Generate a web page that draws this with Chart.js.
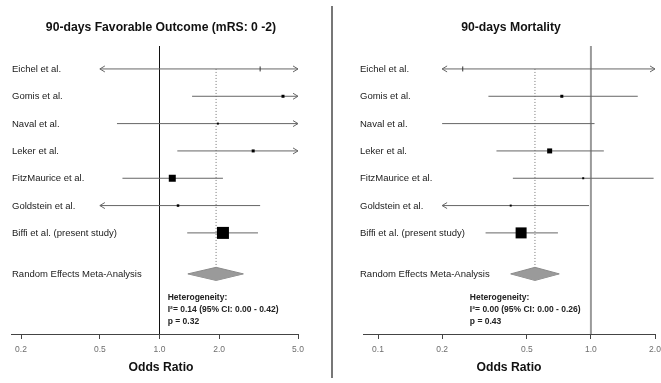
<!DOCTYPE html>
<html>
<head>
<meta charset="utf-8">
<script src="https://cdn.jsdelivr.net/npm/chart.js@4/dist/chart.umd.min.js"></script>
<style>
  html, body { margin: 0; padding: 0; background: #fff; }
  #wrap { position: relative; width: 661px; height: 383px; overflow: hidden; }
  #c1 { position: absolute; left: 0; top: 0; }
  #c2 { position: absolute; left: 333px; top: 0; }
  #divider { position: absolute; left: 331px; top: 6px; width: 2px; height: 372px; background: #777; }
</style>
</head>
<body>
<div id="wrap">
  <canvas id="c1" width="331" height="383"></canvas>
  <div id="divider"></div>
  <canvas id="c2" width="345" height="383"></canvas>
</div>
<script>
// ---------- data ----------
const studies = ["Eichel et al.", "Gomis et al.", "Naval et al.", "Leker et al.",
                 "FitzMaurice et al.", "Goldstein et al.", "Biffi et al. (present study)"];
const summaryLabel = "Random Effects Meta-Analysis";

// 90-days favorable outcome (mRS 0-2): odds ratios and 95% CI
const favOR = [3.22, 4.20, 1.97, 2.97, 1.16, 1.24, 2.09];
const favLo = [0.35, 1.46, 0.61, 1.23, 0.65, 0.48, 1.38];
const favHi = [30.0, 12.0, 6.40, 7.20, 2.09, 3.22, 3.14];
const favSummary = [1.93, 1.39, 2.65];      // estimate, lower, upper
const favTicks = [0.2, 0.5, 1.0, 2.0, 5.0];
const favHet = ["Heterogeneity:", "I\u00B2= 0.14 (95% CI: 0.00 - 0.42)", "p = 0.32"];

// 90-days mortality: odds ratios and 95% CI
const morOR = [0.25, 0.73, 0.46, 0.64, 0.92, 0.42, 0.47];
const morLo = [0.03, 0.33, 0.20, 0.36, 0.43, 0.18, 0.32];
const morHi = [2.20, 1.66, 1.04, 1.15, 1.97, 0.98, 0.70];
const morSummary = [0.546, 0.42, 0.71];
const morTicks = [0.1, 0.2, 0.5, 1.0, 2.0];
const morHet = ["Heterogeneity:", "I\u00B2= 0.00 (95% CI: 0.00 - 0.26)", "p = 0.43"];

// ---------- styles ----------
const favBox = [0, 3, 2, 3, 7, 2.5, 12];   // marker side in px (0 = tick mark)
const morBox = [0, 3, -1, 5, 2, 2, 11];    // -1 = hidden marker
const FONT = "'Liberation Sans', Arial, sans-serif";

function makeForest(canvasId, cfg) {
  const n = studies.length;
  const sumRow = n + 1.5;
  const yMin = 0.16, yMax = 10.7, dh = 0.24;
  const [sEst, sLo, sHi] = cfg.summary;

  const datasets = [];
  // point estimates
  datasets.push({
    type: 'scatter',
    data: cfg.or.map((v, i) => ({ x: v, y: i + 1 })),
    pointStyle: cfg.box.map(s => s === 0 ? 'line' : 'rect'),
    pointRotation: cfg.box.map(s => s === 0 ? 90 : 0),
    pointRadius: cfg.box.map(s => s === 0 ? 2.5 : (s < 0 ? 0 : s / Math.SQRT2)),
    pointHoverRadius: cfg.box.map(s => s === 0 ? 2.5 : (s < 0 ? 0 : s / Math.SQRT2)),
    borderWidth: cfg.box.map(s => s === 0 ? 1 : 0),
    backgroundColor: '#000',
    borderColor: '#333'
  });
  // summary diamond (upper and lower halves, filled between)
  datasets.push({
    type: 'line',
    data: [{ x: sLo, y: sumRow }, { x: sEst, y: sumRow - dh }, { x: sHi, y: sumRow }],
    borderColor: '#8a8a8a', borderWidth: 1, backgroundColor: '#9a9a9a',
    pointRadius: 0, fill: '+1', tension: 0
  });
  datasets.push({
    type: 'line',
    data: [{ x: sLo, y: sumRow }, { x: sEst, y: sumRow + dh }, { x: sHi, y: sumRow }],
    borderColor: '#8a8a8a', borderWidth: 1, pointRadius: 0, fill: false, tension: 0
  });
  // confidence intervals (clipped at plotting limits)
  cfg.or.forEach((v, i) => {
    datasets.push({
      type: 'line',
      data: [{ x: Math.max(cfg.lo[i], cfg.clip[0]), y: i + 1 },
             { x: Math.min(cfg.hi[i], cfg.clip[1]), y: i + 1 }],
      borderColor: '#666', borderWidth: 1, pointRadius: 0, fill: false
    });
  });
  // dotted summary line
  datasets.push({
    type: 'line',
    data: [{ x: sEst, y: 1 }, { x: sEst, y: sumRow - dh }],
    borderColor: '#777', borderWidth: 1, borderDash: [1, 2], pointRadius: 0, fill: false
  });
  // null line at OR = 1
  datasets.push({
    type: 'line',
    data: [{ x: 1, y: yMin }, { x: 1, y: yMax }],
    borderColor: cfg.nullColor, borderWidth: cfg.nullWidth, pointRadius: 0, fill: false
  });

  const textPlugin = {
    id: 'forestText',
    afterDraw(chart) {
      const ctx = chart.ctx;
      const xs = chart.scales.x, ys = chart.scales.y;
      ctx.save();
      // arrows for clipped intervals
      ctx.strokeStyle = '#666'; ctx.lineWidth = 1;
      cfg.or.forEach((v, i) => {
        const y = ys.getPixelForValue(i + 1);
        if (cfg.lo[i] < cfg.clip[0]) {
          const x = xs.getPixelForValue(cfg.clip[0]);
          ctx.beginPath(); ctx.moveTo(x + 5, y - 3); ctx.lineTo(x, y); ctx.lineTo(x + 5, y + 3); ctx.stroke();
        }
        if (cfg.hi[i] > cfg.clip[1]) {
          const x = xs.getPixelForValue(cfg.clip[1]);
          ctx.beginPath(); ctx.moveTo(x - 5, y - 3); ctx.lineTo(x, y); ctx.lineTo(x - 5, y + 3); ctx.stroke();
        }
      });
      // title
      ctx.fillStyle = '#111';
      ctx.textAlign = 'center'; ctx.textBaseline = 'middle';
      ctx.font = 'bold 12.2px ' + FONT;
      ctx.fillText(cfg.title, cfg.titleX, 28);
      // x-axis title
      ctx.fillText('Odds Ratio', cfg.xTitleX, 368);
      // study labels
      ctx.textAlign = 'left';
      ctx.font = '9.5px ' + FONT;
      ctx.fillStyle = '#1a1a1a';
      studies.forEach((s, i) => ctx.fillText(s, cfg.labelX, ys.getPixelForValue(i + 1) + 0.5));
      ctx.fillText(summaryLabel, cfg.labelX, ys.getPixelForValue(sumRow) + 0.5);
      // heterogeneity
      ctx.font = 'bold 8.5px ' + FONT;
      ctx.fillStyle = '#222';
      const hx = xs.getPixelForValue(cfg.hetX);
      [298, 309.8, 321.6].forEach((y, k) => ctx.fillText(cfg.het[k], hx, y));
      ctx.restore();
    }
  };

  return new Chart(document.getElementById(canvasId), {
    type: 'scatter',
    data: { datasets },
    options: {
      responsive: false,
      animation: false,
      devicePixelRatio: 1,
      layout: { padding: cfg.padding },
      plugins: { legend: { display: false }, title: { display: false }, tooltip: { enabled: false } },
      events: [],
      scales: {
        x: {
          type: 'logarithmic',
          position: 'bottom',
          min: cfg.xmin, max: cfg.xmax,
          afterBuildTicks: s => { s.ticks = cfg.ticks.map(v => ({ value: v })); },
          afterFit: s => { s.height = 49; },
          ticks: {
            autoSkip: false, maxRotation: 0, minRotation: 0,
            callback: v => Number(v).toFixed(1),
            color: '#6e6e6e', font: { family: FONT, size: 8.5 }, padding: 6
          },
          grid: { drawOnChartArea: false, drawTicks: true, tickLength: 5, color: '#444', tickWidth: 1 },
          border: { display: true, color: '#444', width: 1 }
        },
        y: { type: 'linear', reverse: true, min: yMin, max: yMax, display: false }
      }
    },
    plugins: [textPlugin]
  });
}

makeForest('c1', {
  or: favOR, lo: favLo, hi: favHi, summary: favSummary, box: favBox,
  ticks: favTicks, het: favHet, clip: [0.5, 5.0],
  xmin: 0.178, xmax: 5.0, padding: { left: 11, right: 33, top: 46, bottom: 0 },
  title: '90-days Favorable Outcome (mRS: 0 -2)', titleX: 161, xTitleX: 161,
  labelX: 12, hetX: 1.1, nullColor: '#111', nullWidth: 1
});

makeForest('c2', {
  or: morOR, lo: morLo, hi: morHi, summary: morSummary, box: morBox,
  ticks: morTicks, het: morHet, clip: [0.2, 2.0],
  xmin: 0.085, xmax: 2.0, padding: { left: 30, right: 23, top: 46, bottom: 0 },
  title: '90-days Mortality', titleX: 178, xTitleX: 176,
  labelX: 27, hetX: 0.27, nullColor: '#9a9a9a', nullWidth: 2
});
</script>
</body>
</html>
